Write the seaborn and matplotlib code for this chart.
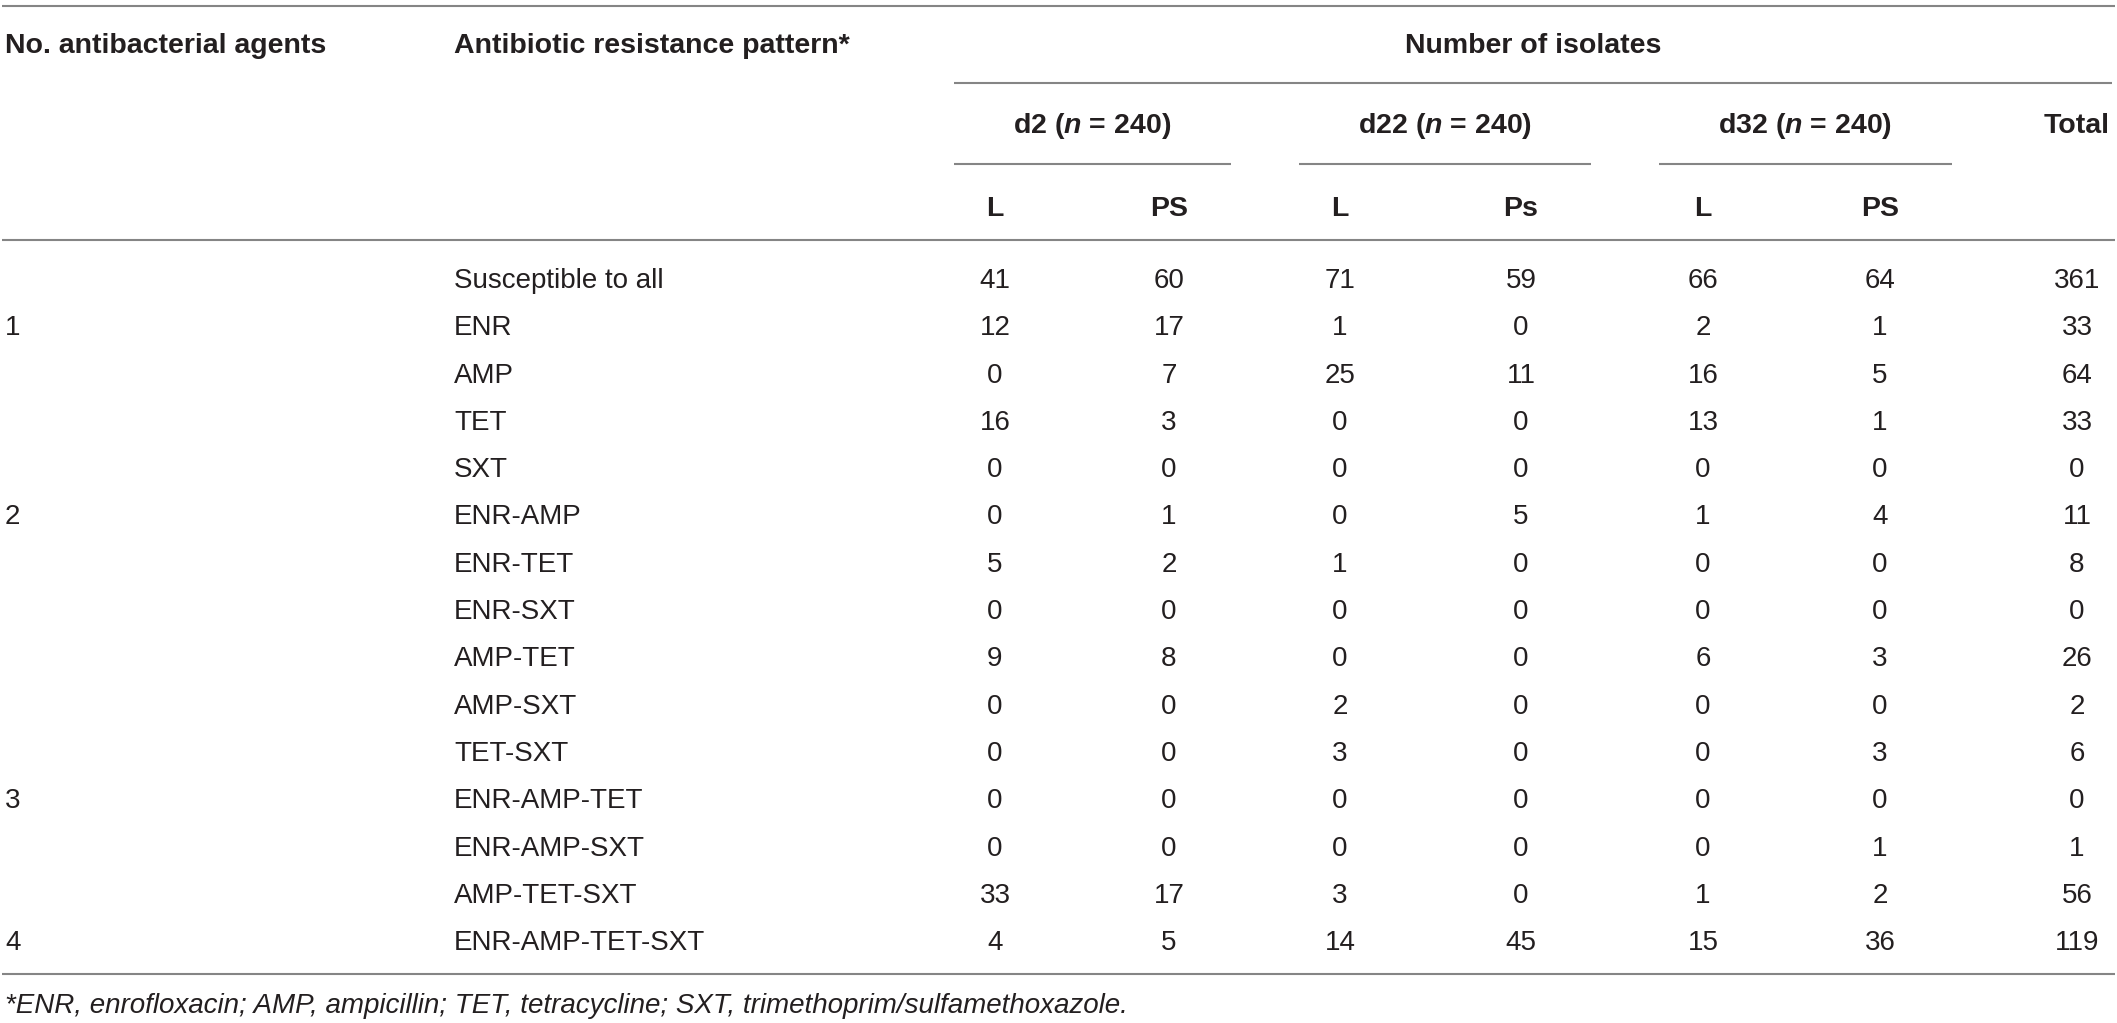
import matplotlib
matplotlib.use("Agg")
import matplotlib.pyplot as plt
import seaborn as sns

# table contents
agents = ["", "1", "", "", "", "2", "", "", "", "", "", "3", "", "", "4"]
patterns = ["Susceptible to all", "ENR", "AMP", "TET", "SXT", "ENR-AMP", "ENR-TET",
            "ENR-SXT", "AMP-TET", "AMP-SXT", "TET-SXT", "ENR-AMP-TET", "ENR-AMP-SXT",
            "AMP-TET-SXT", "ENR-AMP-TET-SXT"]
d2_l = [41, 12, 0, 16, 0, 0, 5, 0, 9, 0, 0, 0, 0, 33, 4]
d2_ps = [60, 17, 7, 3, 0, 1, 2, 0, 8, 0, 0, 0, 0, 17, 5]
d22_l = [71, 1, 25, 0, 0, 0, 1, 0, 0, 2, 3, 0, 0, 3, 14]
d22_ps = [59, 0, 11, 0, 0, 5, 0, 0, 0, 0, 0, 0, 0, 0, 45]
d32_l = [66, 2, 16, 13, 0, 1, 0, 0, 6, 0, 0, 0, 0, 1, 15]
d32_ps = [64, 1, 5, 1, 0, 4, 0, 0, 3, 0, 3, 0, 1, 2, 36]
total = [361, 33, 64, 33, 0, 11, 8, 0, 26, 2, 6, 0, 1, 56, 119]

groups = ["d2", "d22", "d32"]
group_n = [240, 240, 240]
sub_labels = ["L", "PS", "L", "Ps", "L", "PS"]
col_headers = ["No. antibacterial agents", "Antibiotic resistance pattern*"]
span_header = "Number of isolates"
total_header = "Total"
footnote = "*ENR, enrofloxacin; AMP, ampicillin; TET, tetracycline; SXT, trimethoprim/sulfamethoxazole."

# layout (pixels)
W, H = 2117, 1023
col_x = [995, 1169, 1340, 1521, 1703, 1880, 2077]
group_span = [(954, 1231), (1299, 1591), (1659, 1952)]
row_y0, row_dy = 278, 47.3
ink = "#231f20"
rule = "#858585"

sns.set_theme(style="white")
plt.rcParams["font.family"] = ["Liberation Sans", "DejaVu Sans"]
plt.rcParams["mathtext.fontset"] = "custom"
plt.rcParams["mathtext.it"] = "Liberation Sans:italic:bold"
plt.rcParams["mathtext.rm"] = "Liberation Sans:bold"

fig = plt.figure(figsize=(W / 100, H / 100), dpi=100)
ax = fig.add_axes([0, 0, 1, 1])
ax.set_xlim(0, W)
ax.set_ylim(H, 0)
ax.axis("off")

hs, ds, fs = 20.5, 20, 20  # header / body / footnote font size
hb, db = 10.2, 10  # half cap height in px, used to put baselines


def hline(x0, x1, y):
    ax.plot([x0, x1], [y, y], color=rule, lw=1.5, solid_capstyle="butt")


# rules
hline(2, 2115, 6)
hline(954, 2112, 83)
for x0, x1 in group_span:
    hline(x0, x1, 164)
hline(2, 2115, 240)
hline(2, 2115, 974)

# header
ax.text(5, 43 + hb, col_headers[0], fontsize=hs, fontweight="bold", color=ink, va="baseline")
ax.text(454, 43 + hb, col_headers[1], fontsize=hs, fontweight="bold", color=ink, va="baseline")
ax.text((954 + 2112) / 2, 43 + hb, span_header, fontsize=hs, fontweight="bold", color=ink,
        ha="center", va="baseline")
for (x0, x1), g, n in zip(group_span, groups, group_n):
    ax.text((x0 + x1) / 2, 123 + hb, g + " ($n$ = " + str(n) + ")", fontsize=hs,
            fontweight="bold", color=ink, ha="center", va="baseline")
ax.text(col_x[-1], 123 + hb, total_header, fontsize=hs, fontweight="bold", color=ink,
        ha="center", va="baseline")
for x, lab in zip(col_x, sub_labels):
    ax.text(x, 206 + hb, lab, fontsize=hs, fontweight="bold", color=ink, ha="center", va="baseline")

# body
columns = [d2_l, d2_ps, d22_l, d22_ps, d32_l, d32_ps, total]
for i, (a, p) in enumerate(zip(agents, patterns)):
    y = row_y0 + i * row_dy + db
    ax.text(5, y, a, fontsize=ds, color=ink, va="baseline")
    ax.text(454, y, p, fontsize=ds, color=ink, va="baseline")
    for x, col in zip(col_x, columns):
        ax.text(x, y, str(col[i]), fontsize=ds, color=ink, ha="center", va="baseline")

ax.text(5, 1003 + db, footnote, fontsize=fs, style="italic", color=ink, va="baseline")

fig.savefig("out.png", dpi=100)
